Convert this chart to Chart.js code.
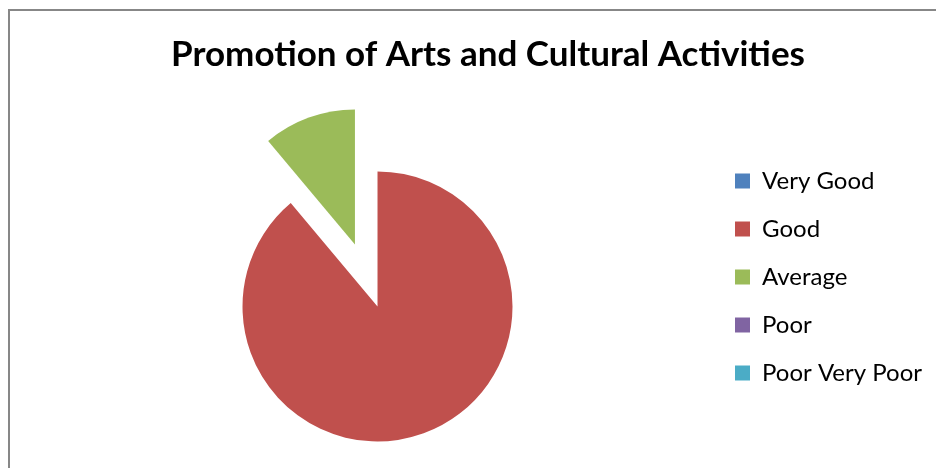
<!DOCTYPE html>
<html>
<head>
<meta charset="utf-8">
<script src="https://cdn.jsdelivr.net/npm/chart.js@4"></script>
<style>
html,body{margin:0;padding:0;background:#fff;overflow:hidden}
#wrap{position:relative;width:936px;height:468px}
#frame{position:absolute;left:8px;top:9px;width:940px;height:470px;border-left:2px solid #878787;border-top:2px solid #878787;pointer-events:none}
</style>
</head>
<body>
<div id="wrap">
 <canvas id="pieCanvas" width="936" height="468"></canvas>
 <div id="frame"></div>
</div>
<script>
const chartTitle="Promotion of Arts and Cultural Activities";
const labels=["Very Good","Good","Average","Poor","Poor Very Poor"];
const counts=[0,8,1,0,0];
const colors=["#4F81BD","#C0504D","#9BBB59","#8064A2","#4BACC6"];
const explode=[0,0,66,0,0];

/* ----- pull exploded slices out along their middle angle ----- */
const explodePlugin={
 id:"explode",
 afterDatasetUpdate(chart,args){
  chart.getDatasetMeta(args.index).data.forEach((a,i)=>{
   const d=explode[i]||0;
   if(!d) return;
   const mid=(a.startAngle+a.endAngle)/2;
   a.x+=Math.cos(mid)*d;
   a.y+=Math.sin(mid)*d;
  });
 }
};

new Chart(pieCanvas,{
 type:"pie",
 data:{
  labels:labels,
  datasets:[{
   data:counts,
   backgroundColor:colors,
   borderWidth:0,
   radius:135
  }]
 },
 options:{
  responsive:false,
  animation:false,
  devicePixelRatio:1,
  layout:{padding:{left:44,right:4,top:0,bottom:0}},
  plugins:{
   title:{
    display:true,
    text:chartTitle,
    color:"#000",
    font:{family:"Lato",size:35,weight:"bold"},
    padding:{top:34,bottom:69}
   },
   legend:{
    position:"right",
    align:"start",
    fullSize:false,
    labels:{
     boxWidth:15,
     boxHeight:15,
     padding:24,
     color:"#000",
     font:{family:"Lato",size:24}
    }
   },
   tooltip:{enabled:false}
  }
 },
 plugins:[explodePlugin]
});
</script>
</body>
</html>
